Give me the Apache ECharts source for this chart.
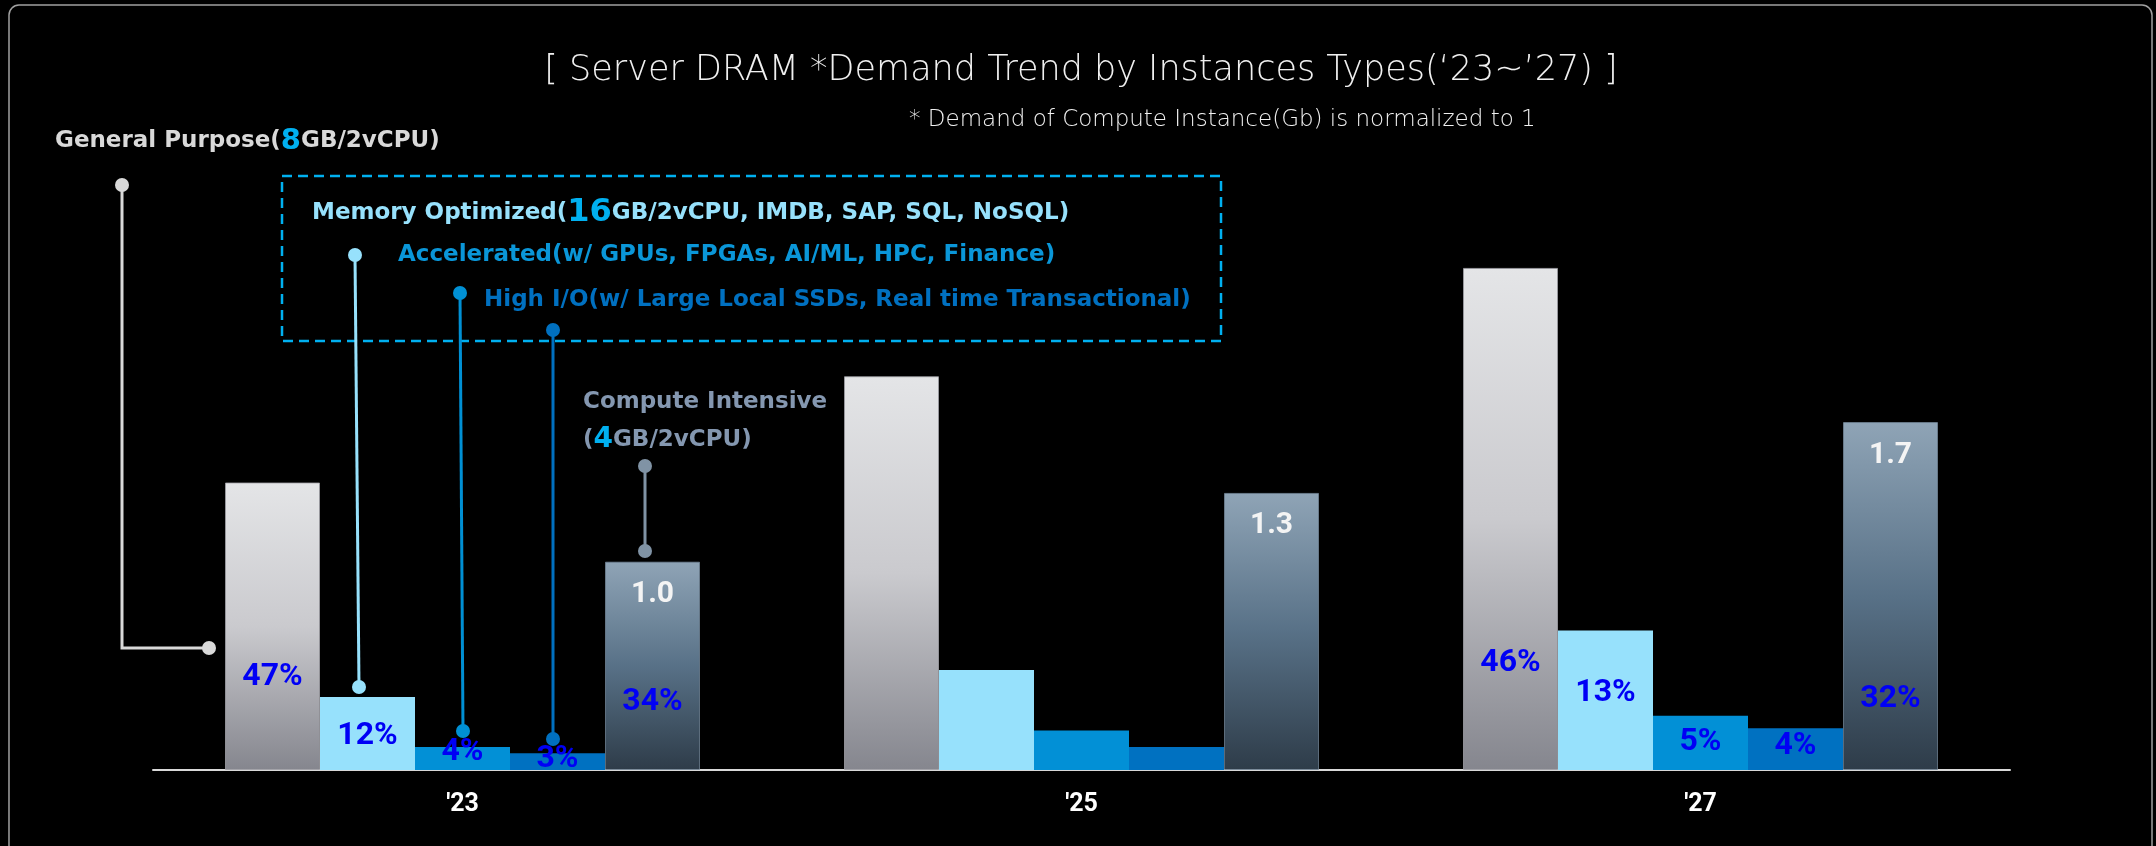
<!DOCTYPE html>
<html>
<head>
<meta charset="utf-8">
<script src="https://cdn.jsdelivr.net/npm/echarts@6/dist/echarts.min.js"></script>
<style>
html, body { margin: 0; padding: 0; background: #000; }
#chart { width: 2156px; height: 846px; }
</style>
</head>
<body>
<div id="chart"></div>
<script>
// demand relative to the '23 compute instance (= 1.0)
const years = ["'23", "'25", "'27"];
const generalPurpose = [1.38, 1.89, 2.41];
const memoryOptimized = [0.35, 0.48, 0.67];
const accelerated = [0.11, 0.19, 0.26];
const highIO = [0.08, 0.11, 0.20];
const computeIntensive = [1.0, 1.33, 1.67];
const computeLabels = ['1.0', '1.3', '1.7'];

// share of each type in the year
const generalShare = ['47%', '', '46%'];
const memoryShare = ['12%', '', '13%'];
const acceleratedShare = ['4%', '', '5%'];
const highIOShare = ['3%', '', '4%'];
const computeShare = ['34%', '', '32%'];

// how high (px) the share label sits above the base line
const generalLift = [93, 0, 107];
const memoryLift = [34, 0, 77];
const acceleratedLift = [18, 0, 28];
const highIOLift = [11, 0, 24];
const computeLift = [68, 0, 71];

const BOLD = "'DejaVu Sans', sans-serif";

function grad(stops) {
    return new echarts.graphic.LinearGradient(0, 0, 0, 1, stops);
}

function barSeries(name, values, color, extra) {
    return Object.assign({
        name: name,
        type: 'bar',
        barWidth: 95,
        barGap: '0%',
        data: values,
        itemStyle: { color: color },
        label: { show: false },
        silent: true
    }, extra || {});
}

function shareSeries(values, shares, lifts) {
    return {
        type: 'bar',
        xAxisIndex: 1,
        barWidth: 95,
        barGap: '0%',
        silent: true,
        itemStyle: { color: 'rgba(0,0,0,0)' },
        data: values.map((v, i) => ({ value: v, label: { distance: lifts[i] } })),
        label: {
            show: true,
            position: 'insideBottom',
            verticalAlign: 'middle',
            color: '#0000f5',
            fontFamily: 'Roboto',
            fontWeight: 'bold',
            fontSize: 32,
            formatter: p => shares[p.dataIndex]
        }
    };
}

function txt(x, y, text, rich, extra) {
    return {
        type: 'text', x: x, y: y, silent: true,
        style: Object.assign({ text: text, verticalAlign: 'middle', rich: rich }, extra || {})
    };
}

function dot(x, y, color) {
    return { type: 'circle', silent: true, shape: { cx: x, cy: y, r: 7 }, style: { fill: color } };
}

function stem(points, color) {
    return { type: 'polyline', silent: true, shape: { points: points }, style: { stroke: color, lineWidth: 3, fill: null } };
}

const chart = echarts.init(document.getElementById('chart'));

const option = {
    backgroundColor: '#000',
    animation: false,
    grid: { left: 153, right: 146, top: 145, bottom: 76 },
    xAxis: [{
        type: 'category',
        data: years,
        axisLine: { lineStyle: { color: '#d9d9d9', width: 2 } },
        axisTick: { show: false },
        axisLabel: { color: '#ffffff', fontFamily: 'Roboto', fontWeight: 'bold', fontSize: 25, margin: 22 }
    }, {
        type: 'category',
        data: years,
        show: false
    }],
    yAxis: { type: 'value', min: 0, max: 3, show: false, splitLine: { show: false } },
    series: [
        barSeries('General Purpose', generalPurpose, null, {
            itemStyle: {
                color: grad([{ offset: 0, color: '#e4e5e7' }, { offset: 0.5, color: '#cacace' }, { offset: 1, color: '#85868e' }]),
                borderColor: 'rgba(160,160,166,0.8)', borderWidth: 1
            }
        }),
        barSeries('Memory Optimized', memoryOptimized, '#97e1fc'),
        barSeries('Accelerated', accelerated, '#0290d6'),
        barSeries('High I/O', highIO, '#0071c1'),
        barSeries('Compute Intensive', computeIntensive, null, {
            itemStyle: {
                color: grad([{ offset: 0, color: '#8fa4b6' }, { offset: 0.5, color: '#587187' }, { offset: 1, color: '#2e3c49' }]),
                borderColor: 'rgba(120,140,158,0.7)', borderWidth: 1
            },
            label: {
                show: true,
                position: 'insideTop',
                distance: 33,
                verticalAlign: 'middle',
                color: '#f4f4f4',
                fontFamily: 'Roboto',
                fontWeight: 'bold',
                fontSize: 30,
                formatter: p => computeLabels[p.dataIndex]
            }
        }),
        shareSeries(generalPurpose, generalShare, generalLift),
        shareSeries(memoryOptimized, memoryShare, memoryLift),
        shareSeries(accelerated, acceleratedShare, acceleratedLift),
        shareSeries(highIO, highIOShare, highIOLift),
        shareSeries(computeIntensive, computeShare, computeLift)
    ],
    graphic: [
        { type: 'rect', silent: true, shape: { x: 9, y: 5, width: 2143, height: 860, r: 10 },
          style: { fill: null, stroke: '#a0a0a0', lineWidth: 1.5 } },
        txt(1081, 71, '[ Server DRAM *Demand Trend by Instances Types(\u201823~\u201927) ]', null,
            { align: 'center', fill: '#f0f0f0', fontFamily: "'DejaVu Sans', sans-serif", fontWeight: 200, fontSize: 35 }),
        txt(909, 120, '* Demand of Compute Instance(Gb) is normalized to 1', null,
            { fill: '#f0f0f0', fontFamily: "'DejaVu Sans', sans-serif", fontWeight: 200, fontSize: 23 }),
        txt(55, 141, '{a|General Purpose(}{b|8}{a|GB/2vCPU)}', {
            a: { fill: '#d9d9d9', fontFamily: BOLD, fontWeight: 'bold', fontSize: 23 },
            b: { fill: '#00b0f0', fontFamily: BOLD, fontWeight: 'bold', fontSize: 29 }
        }),
        { type: 'rect', silent: true, shape: { x: 282, y: 176, width: 939, height: 165 },
          style: { fill: null, stroke: '#00b0f0', lineWidth: 2.5, lineDash: [10, 6] } },
        txt(312, 213, '{a|Memory Optimized(}{b|16}{a|GB/2vCPU, IMDB, SAP, SQL, NoSQL)}', {
            a: { fill: '#97e1fc', fontFamily: BOLD, fontWeight: 'bold', fontSize: 23 },
            b: { fill: '#00b0f0', fontFamily: BOLD, fontWeight: 'bold', fontSize: 32 }
        }),
        txt(398, 255, 'Accelerated(w/ GPUs, FPGAs, AI/ML, HPC, Finance)', null,
            { fill: '#0a96d8', fontFamily: BOLD, fontWeight: 'bold', fontSize: 23 }),
        txt(484, 300, 'High I/O(w/ Large Local SSDs, Real time Transactional)', null,
            { fill: '#0070c0', fontFamily: BOLD, fontWeight: 'bold', fontSize: 23 }),
        txt(583, 402, 'Compute Intensive', null,
            { fill: '#8497b0', fontFamily: BOLD, fontWeight: 'bold', fontSize: 23 }),
        txt(583, 440, '{a|(}{b|4}{a|GB/2vCPU)}', {
            a: { fill: '#8497b0', fontFamily: BOLD, fontWeight: 'bold', fontSize: 23 },
            b: { fill: '#00b0f0', fontFamily: BOLD, fontWeight: 'bold', fontSize: 28 }
        }),
        // leader lines
        stem([[122, 185], [122, 648], [209, 648]], '#d9d9d9'),
        dot(122, 185, '#d9d9d9'), dot(209, 648, '#d9d9d9'),
        stem([[355, 255], [359, 687]], '#97e1fc'),
        dot(355, 255, '#97e1fc'), dot(359, 687, '#97e1fc'),
        stem([[460, 293], [463, 731]], '#0090d4'),
        dot(460, 293, '#0090d4'), dot(463, 731, '#0090d4'),
        stem([[553, 330], [553, 739]], '#0070c0'),
        dot(553, 330, '#0070c0'), dot(553, 739, '#0070c0'),
        stem([[645, 466], [645, 551]], '#8093a5'),
        dot(645, 466, '#8093a5'), dot(645, 551, '#8093a5')
    ]
};

chart.setOption(option);
</script>
</body>
</html>
